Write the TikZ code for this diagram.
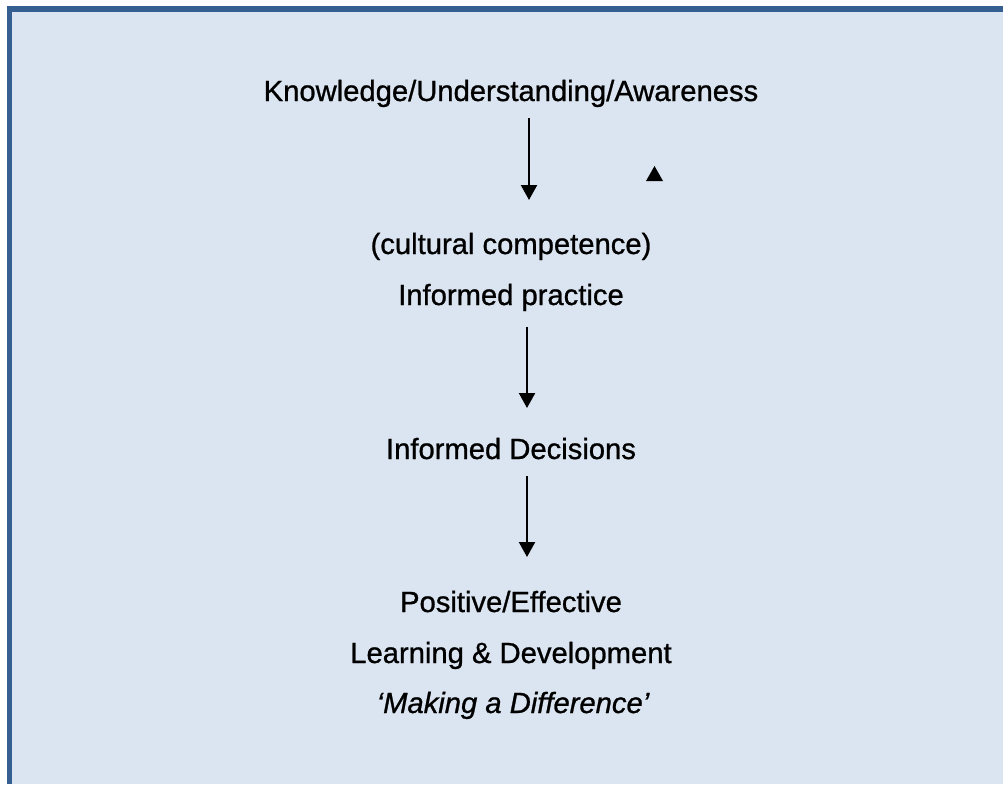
\documentclass[tikz,border=0pt]{standalone}
\usepackage{fontspec}
\setmainfont{Liberation Sans}
\newfontfamily\heavyfont[FakeBold=0.9]{Liberation Sans}
\usetikzlibrary{arrows.meta}
\definecolor{frameblue}{HTML}{365F91}
\definecolor{panelblue}{HTML}{DBE5F1}
\begin{document}
\begin{tikzpicture}[x=1pt,y=-1pt,
  label text/.style={anchor=base,inner sep=0pt,font=\heavyfont\fontsize{29.2}{35}\selectfont},
  flow arrow/.style={line width=2.2pt,-{Triangle[length=15pt,width=16pt]}}]
\useasboundingbox (0,0) rectangle (1003,784);
\fill[white] (0,0) rectangle (1003,784);
\fill[frameblue] (7,6) rectangle (1003,784);
\fill[panelblue] (12,12) rectangle (1003,784);
% texts
\node[label text] (know) at (511,101) {Knowledge/Understanding/Awareness};
\node[label text] (cult) at (511,254) {(cultural competence)};
\node[label text] (prac) at (511,305) {Informed practice};
\node[label text] (deci) at (511,459) {Informed Decisions};
\node[label text] (posi) at (511,612) {Positive/Effective};
\node[label text] (lear) at (511,663) {Learning \& Development};
\node[label text,font=\heavyfont\fontsize{29.2}{35}\selectfont\itshape] (make) at (513,713) {‘Making a Difference’};
% arrows
\coordinate (a1s) at (529,118);
\coordinate (a1e) at (529,200);
\coordinate (a2s) at (527,327);
\coordinate (a2e) at (527,408);
\coordinate (a3s) at (527,476);
\coordinate (a3e) at (527,557);
\draw[flow arrow] (a1s) -- (a1e);
\draw[flow arrow] (a2s) -- (a2e);
\draw[flow arrow] (a3s) -- (a3e);
% small triangle
\fill[black] (646,181) -- (663,181) -- (654.5,166) -- cycle;
\end{tikzpicture}
\end{document}
